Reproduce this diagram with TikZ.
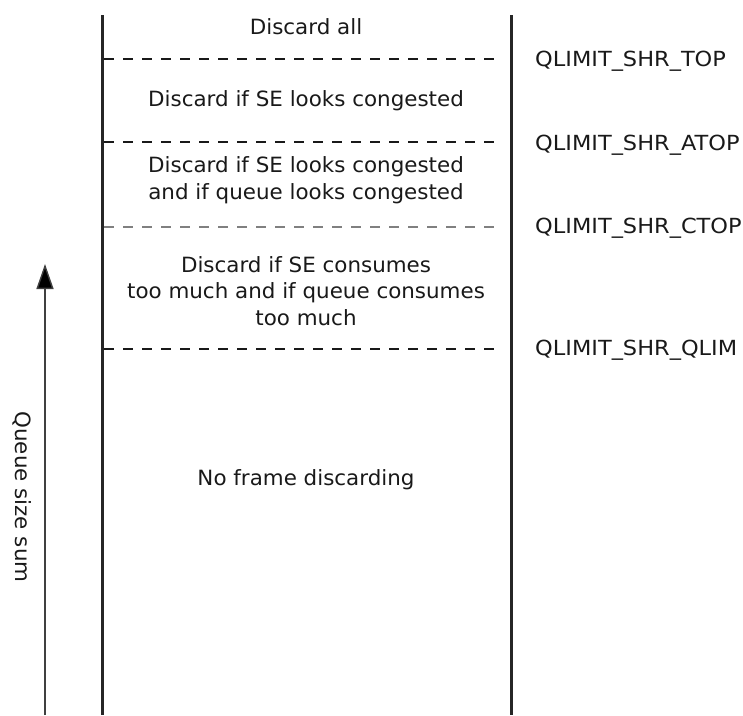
\documentclass[tikz,border=0pt]{standalone}
\usepackage{fontspec}
\setmainfont{DejaVu Sans}[FakeStretch=1.02]
\newfontfamily\lblfont{DejaVu Sans}[FakeStretch=1.08]
\usetikzlibrary{arrows.meta}
\begin{document}
\begin{tikzpicture}[x=1pt,y=-1pt,
  zone/.style={align=center,font=\fontsize{21}{26.5}\selectfont,inner sep=0pt,text=black!90},
  lbl/.style={anchor=west,font=\lblfont\fontsize{20.8}{24}\selectfont,inner sep=0pt,text=black!90},
  wall/.style={line width=3pt,draw=black!85},
  thickdash/.style={line width=2.4pt,draw=black!90,dash pattern=on 10pt off 9pt},
  thindash/.style={line width=1.2pt,draw=black!50,dash pattern=on 10pt off 9pt},
  axis/.style={line width=1.4pt,draw=black!75,-{Triangle[length=25pt,width=17pt,fill=black]}}]
\useasboundingbox (0,0) rectangle (743,715);
% walls
\coordinate (lt) at (102,15);
\coordinate (lb) at (102,715);
\coordinate (rt) at (511,15);
\coordinate (rb) at (511,715);
\draw[wall] (lt) -- (lb);
\draw[wall] (rt) -- (rb);
% thresholds
\coordinate (d1l) at (104,59);  \coordinate (d1r) at (502,59);
\coordinate (d2l) at (104,142); \coordinate (d2r) at (502,142);
\coordinate (d3l) at (104,227); \coordinate (d3r) at (502,227);
\coordinate (d4l) at (104,349); \coordinate (d4r) at (502,349);
\draw[thickdash] (d1l) -- (d1r);
\draw[thickdash] (d2l) -- (d2r);
\draw[thindash] (d3l) -- (d3r);
\draw[thickdash] (d4l) -- (d4r);
% zone texts
\node[zone] (z1) at (306,27) {Discard all};
\node[zone] (z2) at (306,101) {Discard if SE looks congested};
\node[zone] (z3) at (306,180) {Discard if SE looks congested\\and if queue looks congested};
\node[zone] (z4) at (306,291) {Discard if SE consumes\\too much and if queue consumes\\too much};
\node[zone] (z5) at (306,480) {No frame discarding};
% threshold labels
\node[lbl] (l1) at (535,61) {QLIMIT\_SHR\_TOP};
\node[lbl] (l2) at (535,145) {QLIMIT\_SHR\_ATOP};
\node[lbl] (l3) at (535,228) {QLIMIT\_SHR\_CTOP};
\node[lbl] (l4) at (535,350) {QLIMIT\_SHR\_QLIM};
% axis
\coordinate (ab) at (45,715);
\coordinate (at) at (45,264);
\draw[axis] (ab) -- (at);
\node[zone,rotate=-90] (ax) at (22,497) {Queue size sum};
\end{tikzpicture}
\end{document}
